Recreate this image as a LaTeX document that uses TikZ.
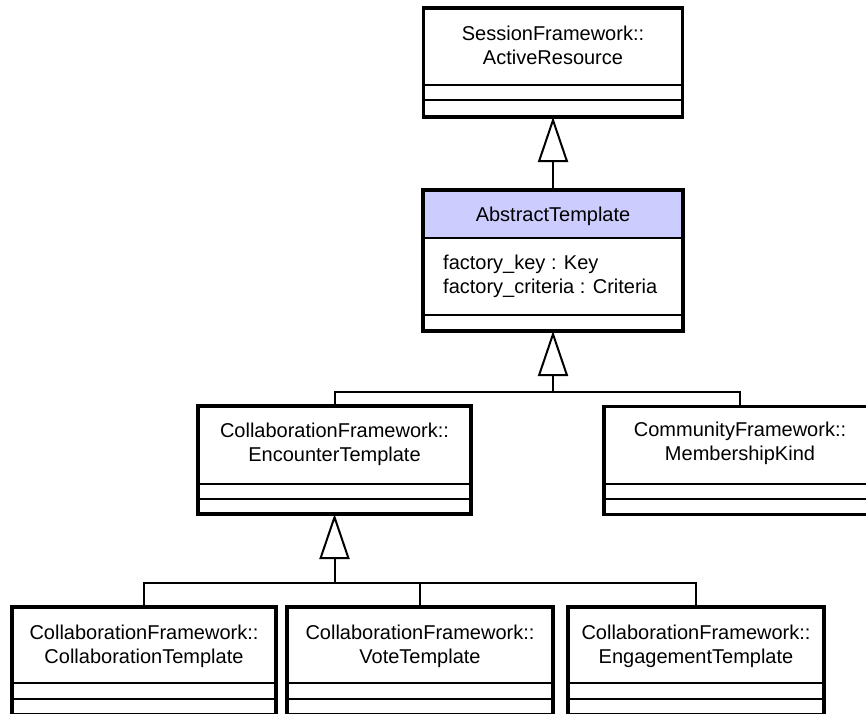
\documentclass[tikz,border=0pt]{standalone}
\usepackage{fontspec}
\setmainfont{Liberation Sans}
\usetikzlibrary{arrows.meta,calc}
\definecolor{headfill}{RGB}{204,204,255}
\begin{document}
\begin{tikzpicture}[x=1pt,y=-1pt,
  classbox/.style={draw=black, line width=3.5pt, rectangle, inner sep=0pt, outer sep=0pt, anchor=north west},
  classname/.style={align=center, inner sep=0pt, font=\fontsize{20}{24}\selectfont},
  attrtext/.style={align=left, inner sep=0pt, anchor=west, font=\fontsize{20}{24}\selectfont},
  divider/.style={line width=1.5pt},
  conn/.style={line width=2pt},
  gen/.style={conn, -{Triangle[open, length=45pt, width=30pt, fill=white]}},
]
\useasboundingbox (0,0) rectangle (866,713);
\begin{scope}
\clip (0,0) rectangle (866,713);

% SessionFramework::ActiveResource
\node[classbox, minimum width=259, minimum height=109] (sf) at (423.5,8) {};
\node[classname] (sfname) at ($(sf.north)+(0,37)$) {SessionFramework::\\ActiveResource};
\draw[divider] ($(sf.north west)+(0,77)$) -- ($(sf.north east)+(0,77)$);
\draw[divider] ($(sf.north west)+(0,92)$) -- ($(sf.north east)+(0,92)$);

% AbstractTemplate
\node[classbox, minimum width=260, minimum height=141] (at) at (423,190) {};
\fill[headfill] ($(at.north west)+(1.75,1.75)$) rectangle ($(at.north east)+(-1.75,48)$);
\node[classname] (atname) at ($(at.north)+(0,26)$) {AbstractTemplate};
\node[attrtext] (atattr) at ($(at.north west)+(20,86)$) {factory\_key : Key\\factory\_criteria : Criteria};
\draw[divider] ($(at.north west)+(0,48)$) -- ($(at.north east)+(0,48)$);
\draw[divider] ($(at.north west)+(0,125)$) -- ($(at.north east)+(0,125)$);

% CollaborationFramework::EncounterTemplate
\node[classbox, minimum width=273, minimum height=108] (enc) at (198,406) {};
\node[classname] (encname) at ($(enc.north)+(0,38)$) {CollaborationFramework::\\EncounterTemplate};
\draw[divider] ($(enc.north west)+(0,78)$) -- ($(enc.north east)+(0,78)$);
\draw[divider] ($(enc.north west)+(0,93)$) -- ($(enc.north east)+(0,93)$);

% CommunityFramework::MembershipKind
\node[classbox, minimum width=272, minimum height=108] (mk) at (604,406.5) {};
\node[classname] (mkname) at ($(mk.north)+(0,37)$) {CommunityFramework::\\MembershipKind};
\draw[divider] ($(mk.north west)+(0,77.5)$) -- ($(mk.north east)+(0,77.5)$);
\draw[divider] ($(mk.north west)+(0,92.5)$) -- ($(mk.north east)+(0,92.5)$);

% CollaborationFramework::CollaborationTemplate
\node[classbox, minimum width=264, minimum height=108] (collab) at (12,607) {};
\node[classname] (collabname) at ($(collab.north)+(0,39)$) {CollaborationFramework::\\CollaborationTemplate};
\draw[divider] ($(collab.north west)+(0,76)$) -- ($(collab.north east)+(0,76)$);
\draw[divider] ($(collab.north west)+(0,92)$) -- ($(collab.north east)+(0,92)$);

% CollaborationFramework::VoteTemplate
\node[classbox, minimum width=266, minimum height=108] (vote) at (287,607) {};
\node[classname] (votename) at ($(vote.north)+(0,39)$) {CollaborationFramework::\\VoteTemplate};
\draw[divider] ($(vote.north west)+(0,76)$) -- ($(vote.north east)+(0,76)$);
\draw[divider] ($(vote.north west)+(0,92)$) -- ($(vote.north east)+(0,92)$);

% CollaborationFramework::EngagementTemplate
\node[classbox, minimum width=256, minimum height=108] (eng) at (568,607) {};
\node[classname] (engname) at ($(eng.north)+(0,39)$) {CollaborationFramework::\\EngagementTemplate};
\draw[divider] ($(eng.north west)+(0,76)$) -- ($(eng.north east)+(0,76)$);
\draw[divider] ($(eng.north west)+(0,92)$) -- ($(eng.north east)+(0,92)$);

% generalization connectors
\draw[gen] (at.north) -- (sf.south);

\coordinate (jB) at ($(at.south)+(0,61)$);
\draw[conn] (enc.north) |- (jB);
\draw[conn] (mk.north) |- (jB);
\draw[gen] (jB) -- (at.south);

\coordinate (jC) at ($(enc.south)+(0,69)$);
\draw[conn] (collab.north) |- (jC);
\draw[conn] (vote.north) |- (jC);
\draw[conn] (eng.north) |- (jC);
\draw[gen] (jC) -- (enc.south);
\end{scope}
\end{tikzpicture}
\end{document}
